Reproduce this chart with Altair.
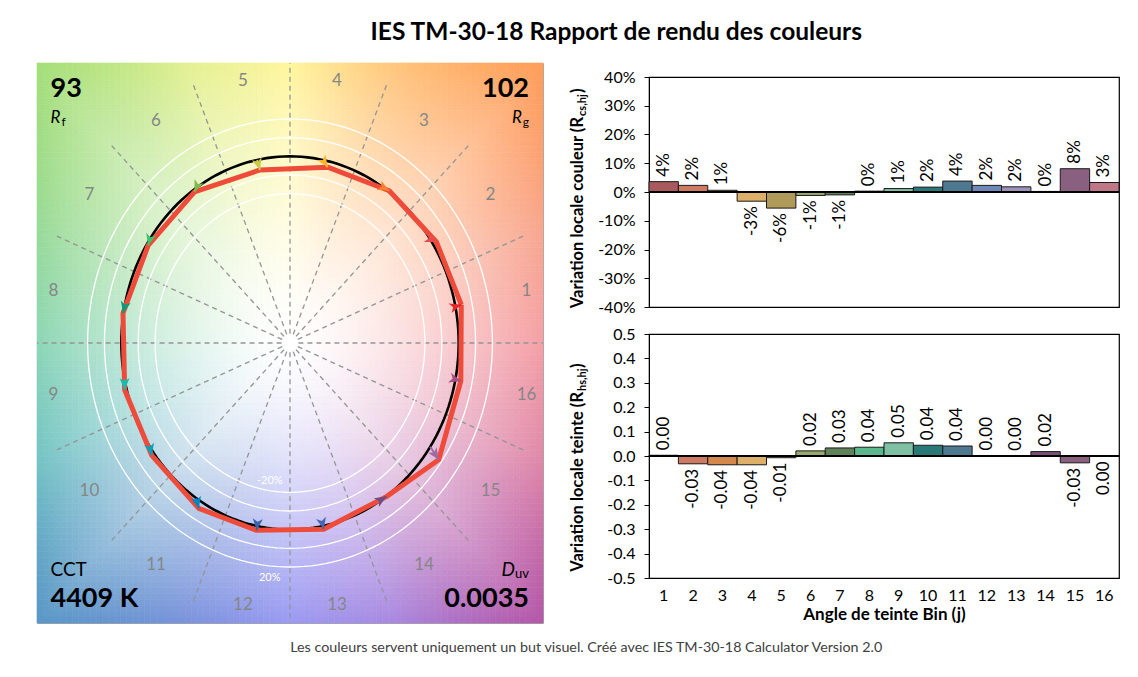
import math
import altair as alt
import pandas as pd

alt.data_transformers.disable_max_rows()

# ---------------- data ----------------
bins = list(range(1, 17))
rcs = [0.036, 0.023, 0.006, -0.032, -0.056, -0.012, -0.010, 0.003,
       0.012, 0.017, 0.038, 0.023, 0.018, 0.002, 0.081, 0.033]
rhs = [0.003, -0.032, -0.036, -0.036, -0.007, 0.021, 0.033, 0.036,
       0.054, 0.044, 0.041, 0.002, 0.001, 0.018, -0.028, -0.002]
bar_colors = ["#a85a5e", "#cf7a62", "#d4884a", "#dcb068", "#b09a5a", "#9aaa6c",
              "#5f825a", "#5ab88c", "#7fc0a4", "#2a7878", "#4d7890", "#6f88b8",
              "#9c94b8", "#7a5078", "#8a6080", "#c07888"]
arrow_colors = ["#e62828", "#e74b4b", "#fb812e", "#ffb529", "#cbca46", "#7eb94c",
                "#41c06d", "#009c7c", "#16bcb0", "#00a4bf", "#0085c3", "#3b62aa",
                "#4568ae", "#6a4e85", "#9d69a1", "#a74f81"]
bin_names = [str(b) for b in bins]
ring_radii = [0.8, 0.9, 1.1, 1.2]
ring_labels = ["-20%", "20%"]
# background colours read at the panel border, every 22.5 degrees from the right
edge_colors = ["#f4a0a6", "#f8a68e", "#ff9c58", "#ffc67c", "#fff69e", "#e2f092",
               "#a4de78", "#98da98", "#8cd6b6", "#74c4c4", "#5896c6", "#7a92dc",
               "#9a9af2", "#a888e0", "#b456a8", "#e088a8"]
rf_value, rg_value = "93", "102"
cct_label, cct_value = "CCT", "4409 K"
duv_value = "0.0035"
title_text = "IES TM-30-18 Rapport de rendu des couleurs"
footer_text = ("Les couleurs servent uniquement un but visuel. "
               "Créé avec IES TM-30-18 Calculator Version 2.0")
y1_title = ["Variation locale couleur (R", "cs,hj", ")"]
y2_title = ["Variation locale teinte (R", "hs,hj", ")"]
x2_title = "Angle de teinte Bin (j)"
y1_ticks = [-0.4, -0.3, -0.2, -0.1, 0.0, 0.1, 0.2, 0.3, 0.4]
y2_ticks = [-0.5, -0.4, -0.3, -0.2, -0.1, 0.0, 0.1, 0.2, 0.3, 0.4, 0.5]

# ---------------- geometry ----------------
PW, PH = 506, 560          # colour-vector panel size
LIM = 1.5
SX, SY = PW / (2 * LIM), PH / (2 * LIM)
SCX = alt.Scale(domain=[-LIM, LIM], nice=False, zero=False)
SCY = alt.Scale(domain=[-LIM, LIM], nice=False, zero=False)
FONT = "Lato"


def hex2rgb(h):
    return [int(h[i:i + 2], 16) for i in (1, 3, 5)]


edge_rgb = [hex2rgb(c) for c in edge_colors]


def bg_color(xc, yc):
    phi = math.degrees(math.atan2(yc, xc)) % 360.0
    k = phi / 22.5
    i = int(k) % 16
    f = k - int(k)
    a, b = edge_rgb[i], edge_rgb[(i + 1) % 16]
    col = [a[j] * (1 - f) + b[j] * f for j in range(3)]
    r = math.hypot(xc, yc)
    c, s = abs(math.cos(math.radians(phi))), abs(math.sin(math.radians(phi)))
    rb = LIM / max(c, s)
    t = min(1.0, r / rb) ** 1.4
    out = [round(255 * (1 - t) + col[j] * t) for j in range(3)]
    return "#%02x%02x%02x" % tuple(out)


NX, NY = 85, 94
rows = []
for ix in range(NX):
    x0 = -LIM + 2 * LIM * ix / NX
    x1 = -LIM + 2 * LIM * (ix + 1) / NX
    for iy in range(NY):
        y0 = -LIM + 2 * LIM * iy / NY
        y1 = -LIM + 2 * LIM * (iy + 1) / NY
        rows.append({"x": round(x0, 4), "x2": round(x1, 4), "y": round(y0, 4),
                     "y2": round(y1, 4), "c": bg_color((x0 + x1) / 2, (y0 + y1) / 2)})
bg_df = pd.DataFrame(rows)

XP = alt.X("x:Q", scale=SCX, axis=None)
YP = alt.Y("y:Q", scale=SCY, axis=None)

bg = alt.Chart(bg_df).mark_rect(strokeWidth=0.6).encode(
    x=XP, x2="x2:Q", y=YP, y2="y2:Q",
    fill=alt.Fill("c:N", scale=None), stroke=alt.Stroke("c:N", scale=None))

# radial dashed lines at bin boundaries
R0 = 0.05
ray_df = pd.DataFrame({
    "x": [R0 * math.cos(math.radians(22.5 * k)) for k in range(16)],
    "y": [R0 * math.sin(math.radians(22.5 * k)) for k in range(16)],
    "x2": [LIM * math.cos(math.radians(22.5 * k)) for k in range(16)],
    "y2": [LIM * math.sin(math.radians(22.5 * k)) for k in range(16)],
})
rays = alt.Chart(ray_df).mark_rule(color="#959595", strokeWidth=1.3, strokeDash=[5, 4]).encode(
    x=XP, y=YP, x2="x2:Q", y2="y2:Q")

# circles
circ = []
for ri, rr in enumerate(ring_radii):
    for k in range(181):
        a = math.radians(2 * k)
        circ.append({"ring": ri, "k": k, "x": rr * math.cos(a), "y": rr * math.sin(a)})
rings = alt.Chart(pd.DataFrame(circ)).mark_line(color="white", strokeWidth=1.3).encode(
    x=XP, y=YP, detail="ring:N", order="k:Q")

ref = pd.DataFrame([{"k": k, "x": math.cos(math.radians(2 * k)), "y": math.sin(math.radians(2 * k))}
                    for k in range(181)])
black = alt.Chart(ref).mark_line(color="black", strokeWidth=2.6).encode(x=XP, y=YP, order="k:Q")

# test vectors
vec = []
for j in range(16):
    th = math.radians((bins[j] - 0.5) * 22.5)
    xr, yr = math.cos(th), math.sin(th)
    xt = (1 + rcs[j]) * math.cos(th + rhs[j])
    yt = (1 + rcs[j]) * math.sin(th + rhs[j])
    ang = math.degrees(math.atan2((xt - xr) * SX, (yt - yr) * SY)) % 360.0
    vec.append({"k": j, "xr": xr, "yr": yr, "x": xt, "y": yt, "ang": ang, "ac": arrow_colors[j]})
vec_df = pd.DataFrame(vec)
loop_df = pd.concat([vec_df, vec_df.iloc[[0]].assign(k=16)], ignore_index=True)

red = alt.Chart(loop_df).mark_line(color="#ef4b3b", strokeWidth=5, strokeJoin="round").encode(
    x=XP, y=YP, order="k:Q")
stems = alt.Chart(vec_df).mark_rule(strokeWidth=2).encode(
    x=alt.X("xr:Q", scale=SCX, axis=None), y=alt.Y("yr:Q", scale=SCY, axis=None),
    x2="x:Q", y2="y:Q", color=alt.Color("ac:N", scale=None))
# arrowhead with its tip at the symbol origin (the test point)
ARROW = "M0,0L0.8,1.85L0,1.35L-0.8,1.85Z"
heads = alt.Chart(vec_df).mark_point(shape=ARROW, filled=True, size=160, opacity=1, strokeWidth=0).encode(
    x=XP, y=YP, angle=alt.Angle("ang:Q", scale=None), color=alt.Color("ac:N", scale=None))

# bin numbers
LR = 1.43
lab_df = pd.DataFrame({
    "x": [LR * math.cos(math.radians((b - 0.5) * 22.5)) for b in bins],
    "y": [LR * math.sin(math.radians((b - 0.5) * 22.5)) for b in bins],
    "t": bin_names})
binlab = alt.Chart(lab_df).mark_text(fontSize=17, color="#868686", font=FONT).encode(x=XP, y=YP, text="t:N")

ringlab = alt.Chart(pd.DataFrame({"x": [-0.12, -0.12], "y": [-0.74, -1.26], "t": ring_labels})).mark_text(
    fontSize=11, color="white", font=FONT).encode(x=XP, y=YP, text="t:N")


def ptxt(x, y, t, **kw):
    return alt.Chart(pd.DataFrame({"x": [x], "y": [y], "t": [t]})).mark_text(
        font=FONT, color="black", baseline="middle", **kw).encode(x=XP, y=YP, text="t:N")


XL, XR = -1.42, 1.417
texts = [
    ptxt(XL, 1.36, rf_value, align="left", fontSize=27, fontWeight="bold"),
    ptxt(XR, 1.36, rg_value, align="right", fontSize=27, fontWeight="bold"),
    ptxt(XL, 1.205, "R", align="left", fontSize=17, fontStyle="italic"),
    ptxt(XL, 1.205, "f", align="left", fontSize=12, dx=11, dy=4),
    ptxt(XR, 1.205, "R", align="right", fontSize=17, fontStyle="italic", dx=-7),
    ptxt(XR, 1.205, "g", align="right", fontSize=12, dy=4),
    ptxt(XL, -1.216, cct_label, align="left", fontSize=19),
    ptxt(XL, -1.371, cct_value, align="left", fontSize=27, fontWeight="bold"),
    ptxt(XR, -1.216, "D", align="right", fontSize=19, fontStyle="italic", dx=-14),
    ptxt(XR, -1.216, "uv", align="right", fontSize=13, dy=4),
    ptxt(XR, -1.371, duv_value, align="right", fontSize=27, fontWeight="bold"),
]

left = alt.layer(bg, rays, rings, black, red, stems, heads, binlab, ringlab, *texts).properties(
    width=PW, height=PH, view=alt.ViewBackground(stroke="#a6a6a6", strokeWidth=1))

# ---------------- bar charts ----------------
bar_df = pd.DataFrame({"bin": bins, "rcs": rcs, "rhs": rhs, "fill": bar_colors, "zero": [0.0] * 16})
BW = 470
MINUS = "\u2212"


def ytitle(parts, P):
    a = alt.Chart(pd.DataFrame({"t": [parts[0]]})).mark_text(
        angle=270, align="right", baseline="middle", fontSize=16.5, fontWeight="bold",
        color="black", font=FONT).encode(x=alt.value(-71), y=alt.value(P), text="t:N")
    b = alt.Chart(pd.DataFrame({"t": [parts[1]]})).mark_text(
        angle=270, align="left", baseline="middle", fontSize=11, fontWeight="bold",
        color="black", font=FONT, dx=1, dy=5).encode(x=alt.value(-71), y=alt.value(P), text="t:N")
    c = alt.Chart(pd.DataFrame({"t": [parts[2]]})).mark_text(
        angle=270, align="left", baseline="middle", fontSize=16.5, fontWeight="bold",
        color="black", font=FONT, dx=24).encode(x=alt.value(-71), y=alt.value(P), text="t:N")
    return [a, b, c]


def bar_panel(field, ticks, fmt, lab_fmt, xaxis, height, title_parts, P):
    xb = alt.X("bin:O", scale=alt.Scale(paddingInner=0, paddingOuter=0), axis=xaxis)
    yscale = alt.Scale(domain=[ticks[0], ticks[-1]], nice=False)

    def yaxis():
        return alt.Axis(values=ticks, format=fmt, labelExpr=f"replace(datum.label, '{MINUS}', '-')",
                        grid=False, tickSize=5, tickColor="black", domainColor="black",
                        labelOverlap=False, labelFontSize=16, labelColor="black",
                        labelPadding=9, title=None)

    yb = alt.Y(f"{field}:Q", scale=yscale, axis=yaxis())
    base = alt.Chart(bar_df)
    bars = base.mark_bar(stroke="#1a1a1a", strokeWidth=1).encode(
        x=xb, y=yb, fill=alt.Fill("fill:N", scale=None))
    zero = base.mark_rule(color="black", strokeWidth=2).encode(
        y=alt.Y("zero:Q", scale=yscale, axis=yaxis()))
    lab_expr = f"replace(format(datum.{field}, '{lab_fmt}'), '{MINUS}', '-')"
    pos = base.transform_filter(f"datum.{field} >= 0").transform_calculate(lab=lab_expr).mark_text(
        angle=270, align="left", baseline="middle", dx=5, fontSize=17, color="black", font=FONT).encode(
        x=xb, y=yb, text="lab:N")
    neg = base.transform_filter(f"datum.{field} < 0").transform_calculate(lab=lab_expr).mark_text(
        angle=270, align="right", baseline="middle", dx=-5, fontSize=17, color="black", font=FONT).encode(
        x=xb, y=yb, text="lab:N")
    return alt.layer(bars, zero, pos, neg, *ytitle(title_parts, P)).properties(
        width=BW, height=height, view=alt.ViewBackground(stroke="black", strokeWidth=1.2))


bottom_axis = alt.Axis(orient="bottom", labelAngle=0, ticks=False, domain=False, labelPadding=9,
                       labelFontSize=16, labelColor="black", title=x2_title, titleFontSize=17,
                       titleFontWeight="bold", titleColor="black", titlePadding=3)

top = bar_panel("rcs", y1_ticks, ".0%", ".0%", None, 230, y1_title, 40)
bottom = bar_panel("rhs", y2_ticks, ".1f", ".2f", bottom_axis, 244, y2_title, 58)

# an empty strip above the bar charts, so that they start lower than the vector panel
spacer = alt.Chart(pd.DataFrame({"a": [0]})).mark_point(opacity=0, size=1).encode(
    x=alt.value(0), y=alt.value(0)).properties(
    width=BW, height=1, view=alt.ViewBackground(strokeWidth=0, strokeOpacity=0))

bars_group = alt.vconcat(top, bottom, spacing=9)
right = alt.vconcat(spacer, bars_group, spacing=4)

inner = alt.hconcat(left, right, spacing=24, title=alt.TitleParams(
    footer_text, orient="bottom", fontSize=14.3, color="#404040", fontWeight="normal",
    offset=17, dx=8, anchor="middle", font=FONT))

chart = alt.vconcat(inner, title=alt.TitleParams(
    title_text, fontSize=24.5, fontWeight="bold", offset=16, dx=38, anchor="middle",
    color="black", font=FONT)).properties(
    padding={"left": 27, "top": 12, "right": 5, "bottom": 5}
).configure(font=FONT, background="white")

chart.save("out.html", embed_options={"renderer": "svg", "actions": False})
